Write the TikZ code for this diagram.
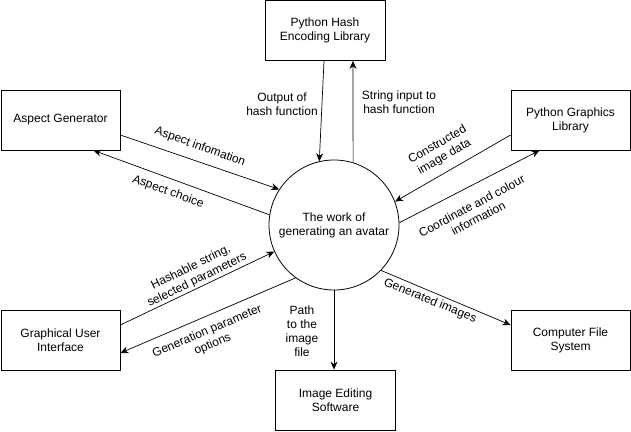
\documentclass[tikz,border=0pt]{standalone}
\usepackage{fontspec}
\setmainfont{Liberation Sans}
\usetikzlibrary{arrows.meta,calc}
\begin{document}
\begin{tikzpicture}[x=1pt,y=-1pt,
  box/.style={draw=black,line width=0.8pt,minimum width=120pt,minimum height=60pt,inner sep=0pt,align=center,font=\fontsize{12}{14}\selectfont},
  proc/.style={draw=black,line width=0.8pt,circle,minimum size=130pt,inner sep=0pt,align=center,font=\fontsize{12}{14}\selectfont},
  flow/.style={line width=0.7pt,-{Stealth[length=8pt,width=7pt]}},
  lab/.style={align=center,inner sep=0pt,font=\fontsize{12}{14}\selectfont}]
\useasboundingbox (0,0) rectangle (631,431);
\node[box] (hash) at (325,30.5) {Python Hash\\Encoding Library};
\node[box,minimum width=119pt] (asp) at (60.5,120) {Aspect Generator};
\node[box,minimum width=119pt] (pg) at (570.5,120) {Python Graphics\\Library};
\node[box,minimum width=119pt] (gui) at (60.5,340) {Graphical User\\Interface};
\node[box,minimum width=119pt] (cfs) at (570.5,340) {Computer File\\System};
\node[box] (ies) at (335.5,400) {Image Editing\\Software};
\node[proc] (c) at (334,225) {The work of\\generating an avatar};
% connectors
\draw[flow] ($(hash.south)+(-1,0)$) -- (c.103);
\draw[flow] (c.73) -- ($(hash.south)+(28,0)$);
\draw[flow] ($(asp.east)+(0,15)$) -- (c.147);
\draw[flow] (c.171) -- ($(asp.south)+(33,0)$);
\draw[flow] ($(pg.west)+(0,15)$) -- (c.21);
\draw[flow] (c.2) -- ($(pg.south)+(-31,0)$);
\draw[flow] ($(gui.east)+(0,-15)$) -- (c.204);
\draw[flow] (c.234) -- ($(gui.east)+(0,13)$);
\draw[flow] (c.south) -- (c.south |- ies.north);
\draw[flow] (c.316) -- ($(cfs.west)+(0,-15)$);
% labels
\node[lab] (l1) at (282,104) {Output of\\hash function};
\node[lab] (l2) at (399,102) {String input to\\hash function};
\node[lab,rotate=-20] (l3) at (200,147) {Aspect infomation};
\node[lab,rotate=-20] (l4) at (168,192) {Aspect choice};
\node[lab,rotate=30] (l5) at (441,151) {Constructed\\image data};
\node[lab,rotate=28] (l6) at (475,212) {Coordinate and colour\\information};
\node[lab,rotate=26] (l7) at (194,274) {Hashable string,\\selected parameters};
\node[lab,rotate=23] (l8) at (210,338) {Generation parameter\\options};
\node[lab] (l9) at (302,331) {Path\\to the\\image\\file};
\node[lab,rotate=-22] (l10) at (430,301) {Generated images};
\end{tikzpicture}
\end{document}
